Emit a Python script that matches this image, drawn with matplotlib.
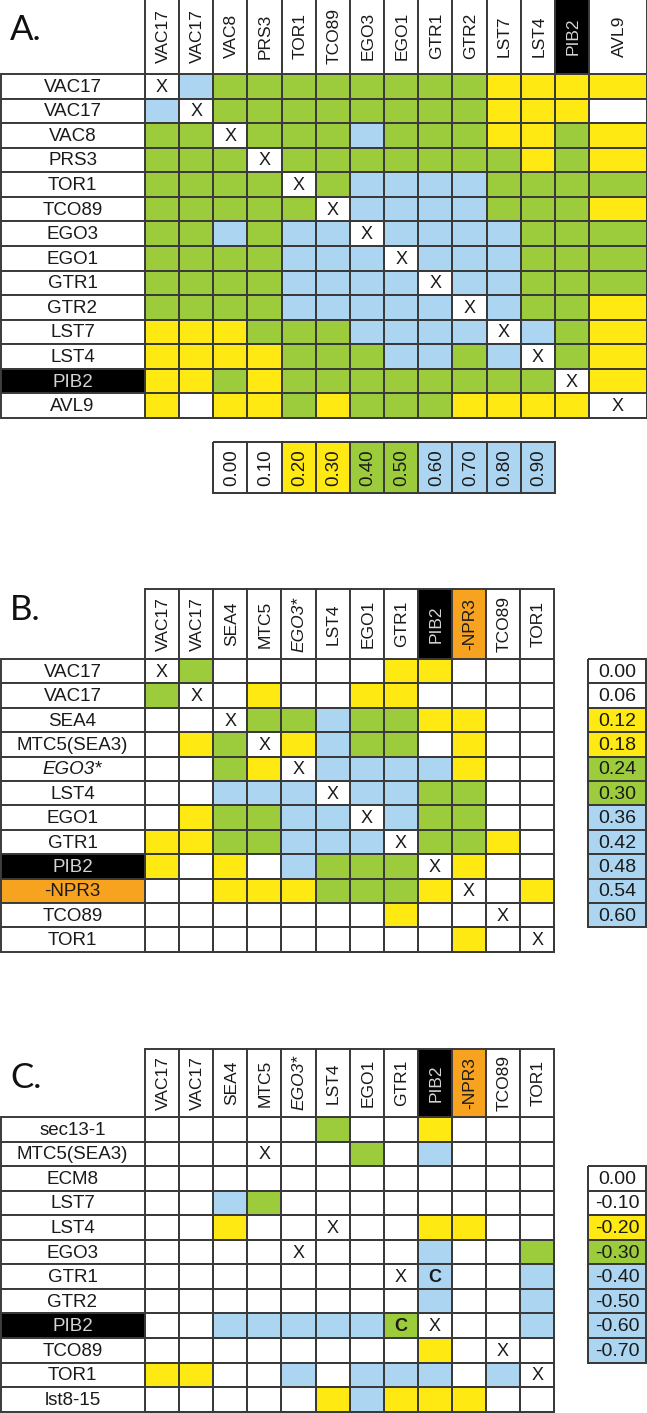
import numpy as np
import matplotlib.pyplot as plt
from matplotlib.colors import ListedColormap
from matplotlib.patches import Rectangle

plt.rcParams['font.family'] = ['Liberation Sans', 'DejaVu Sans']

# cell codes: W white, X diagonal (white + "X"), Y yellow, G green, B blue
pal = {'W': '#FFFFFF', 'X': '#FFFFFF', 'Y': '#FFE912', 'G': '#9CCB3B', 'B': '#ABD5F1'}
codes = 'WXYGB'
cmap = ListedColormap([pal[c] for c in codes])

# ---- panel A ----
a_cols = ['VAC17', 'VAC17', 'VAC8', 'PRS3', 'TOR1', 'TCO89', 'EGO3', 'EGO1',
          'GTR1', 'GTR2', 'LST7', 'LST4', 'PIB2', 'AVL9']
a_rows = ['VAC17', 'VAC17', 'VAC8', 'PRS3', 'TOR1', 'TCO89', 'EGO3', 'EGO1',
          'GTR1', 'GTR2', 'LST7', 'LST4', 'PIB2', 'AVL9']
a_grid = ["XBGGGGGGGGYYYY",
          "BXGGGGGGGGYYYW",
          "GGXGGGBGGGYYGY",
          "GGGXGGGGGGGYGY",
          "GGGGXGBBBBGGGG",
          "GGGGGXBBBBGGGY",
          "GGBGBBXBBBBGGG",
          "GGGGBBBXBBBGGG",
          "GGGGBBBBXBBGGG",
          "GGGGBBBBBXBGGY",
          "YYYGGGBBBBXBGY",
          "YYYYGGGBBGBXGY",
          "YYGYGGGGGGGGXY",
          "YWYYGYGGGYYYYX"]
a_leg = ['0.00', '0.10', '0.20', '0.30', '0.40', '0.50', '0.60', '0.70', '0.80', '0.90']
a_leg_col = "WWYYGGBBBB"

# ---- panel B ----
b_cols = ['VAC17', 'VAC17', 'SEA4', 'MTC5', 'EGO3*', 'LST4', 'EGO1', 'GTR1',
          'PIB2', '-NPR3', 'TCO89', 'TOR1']
b_rows = ['VAC17', 'VAC17', 'SEA4', 'MTC5(SEA3)', 'EGO3*', 'LST4', 'EGO1', 'GTR1',
          'PIB2', '-NPR3', 'TCO89', 'TOR1']
b_grid = ["XGWWWWWYYWWW",
          "GXWYWWYYWWWW",
          "WWXGGBGGYYWW",
          "WYGXYBGGWYWW",
          "WWGYXBBBBYWW",
          "WWBBBXBBGGWW",
          "WYGGBBXBGGWW",
          "YYGGBBBXGGYW",
          "YWYWBGGGXYWW",
          "WWYYYGGGYXWY",
          "WWWWWWWYWWXW",
          "WWWWWWWWWYWX"]
b_leg = ['0.00', '0.06', '0.12', '0.18', '0.24', '0.30', '0.36', '0.42', '0.48', '0.54', '0.60']
b_leg_col = "WWYYGGBBBBB"

# ---- panel C ----
c_cols = b_cols
c_rows = ['sec13-1', 'MTC5(SEA3)', 'ECM8', 'LST7', 'LST4', 'EGO3', 'GTR1', 'GTR2',
          'PIB2', 'TCO89', 'TOR1', 'lst8-15']
c_grid = ["WWWWWGWWYWWW",
          "WWWXWWGWBWWW",
          "WWWWWWWWWWWW",
          "WWBGWWWWWWWW",
          "WWYWWXWWYYWW",
          "WWWWXWWWBWWG",
          "WWWWWWWXBWWB",
          "WWWWWWWWBWWB",
          "WWBBBBBGXWWB",
          "WWWWWWWWYWXW",
          "YYWWBWBBBWBX",
          "WWWWWYBYYYWW"]
c_marks = [(6, 8, 'C'), (8, 7, 'C')]
c_leg = ['0.00', '-0.10', '-0.20', '-0.30', '-0.40', '-0.50', '-0.60', '-0.70']
c_leg_col = "WWYGBBBB"

EDGE = '#3a3a3a'
LW = 1.4
TXT = '#1a1a1a'

fig = plt.figure(figsize=(6.47, 14.13), dpi=100)
ax = fig.add_axes([0, 0, 1, 1])
ax.set_xlim(0, 647)
ax.set_ylim(1413, 0)
ax.axis('off')


def style_of(lab):
    if lab == 'PIB2':
        return '#000000', '#d4d4d4'
    if lab == '-NPR3':
        return '#F7A320', TXT
    return '#FFFFFF', TXT


def panel(rows, cols, grid, xe, head_top, ye, marks=()):
    z = np.array([[codes.index(c) for c in r] for r in grid])
    ax.pcolormesh(xe, ye, z, cmap=cmap, vmin=-0.5, vmax=4.5,
                  edgecolors=EDGE, linewidth=LW)
    for i, r in enumerate(grid):
        for j, c in enumerate(r):
            if c == 'X':
                ax.text((xe[j] + xe[j + 1]) / 2, (ye[i] + ye[i + 1]) / 2 + 1, 'X',
                        ha='center', va='center', fontsize=13, color=TXT)
    for i, j, m in marks:
        ax.text((xe[j] + xe[j + 1]) / 2, (ye[i] + ye[i + 1]) / 2 + 1, m,
                ha='center', va='center', fontsize=13, color=TXT, weight='bold')
    # row labels
    for i, lab in enumerate(rows):
        fc, tc = style_of(lab)
        ax.add_patch(Rectangle((1, ye[i]), xe[0] - 1, ye[i + 1] - ye[i],
                               fc=fc, ec=EDGE, lw=LW))
        ax.text(xe[0] / 2, (ye[i] + ye[i + 1]) / 2 + 1, lab, ha='center', va='center',
                fontsize=13.5, color=tc, style='italic' if '*' in lab else 'normal')
    # column headers
    for j, lab in enumerate(cols):
        fc, tc = style_of(lab)
        ax.add_patch(Rectangle((xe[j], head_top), xe[j + 1] - xe[j], ye[0] - head_top,
                               fc=fc, ec=EDGE, lw=LW))
        ax.text((xe[j] + xe[j + 1]) / 2 + 1, (head_top + ye[0]) / 2, lab, rotation=90,
                ha='center', va='center', fontsize=12.5, color=tc,
                style='italic' if '*' in lab else 'normal')


def legend(labels, cols, xe, ye, rot):
    z = np.array([codes.index(c) for c in cols])
    if rot:
        z = z[None, :]
    else:
        z = z[:, None]
    ax.pcolormesh(xe, ye, z, cmap=cmap, vmin=-0.5, vmax=4.5,
                  edgecolors=EDGE, linewidth=LW)
    for k, lab in enumerate(labels):
        if rot:
            x, y = (xe[k] + xe[k + 1]) / 2 + 1, (ye[0] + ye[1]) / 2
        else:
            x, y = (xe[0] + xe[1]) / 2, (ye[k] + ye[k + 1]) / 2 + 1
        ax.text(x, y, lab, ha='center', va='center', fontsize=14 if not rot else 13.5,
                color=TXT, rotation=90 if rot else 0)


# layout (pixels)
a_x = np.r_[145 + 34.15 * np.arange(14), 647]
a_y = 74 + 24.57 * np.arange(15)
panel(a_rows, a_cols, a_grid, a_x, -2, a_y)
legend(a_leg, a_leg_col, a_x[2:13], np.array([442, 493]), True)

b_x = 145 + 34.1 * np.arange(13)
b_y = 659 + 24.4 * np.arange(13)
panel(b_rows, b_cols, b_grid, b_x, 589, b_y)
legend(b_leg, b_leg_col, np.array([588, 646]), b_y[0:12], False)

c_x = 145 + 34.1 * np.arange(13)
c_y = 1117 + 24.55 * np.arange(13)
panel(c_rows, c_cols, c_grid, c_x, 1049, c_y, c_marks)
legend(c_leg, c_leg_col, np.array([588, 646]), c_y[2:11], False)

for lab, y in [('A.', 30), ('B.', 610), ('C.', 1078)]:
    ax.text(10, y, lab, ha='left', va='center', fontsize=25, family=['Lato', 'DejaVu Sans'],
            color='#111111')

fig.savefig('out.png', dpi=100)
